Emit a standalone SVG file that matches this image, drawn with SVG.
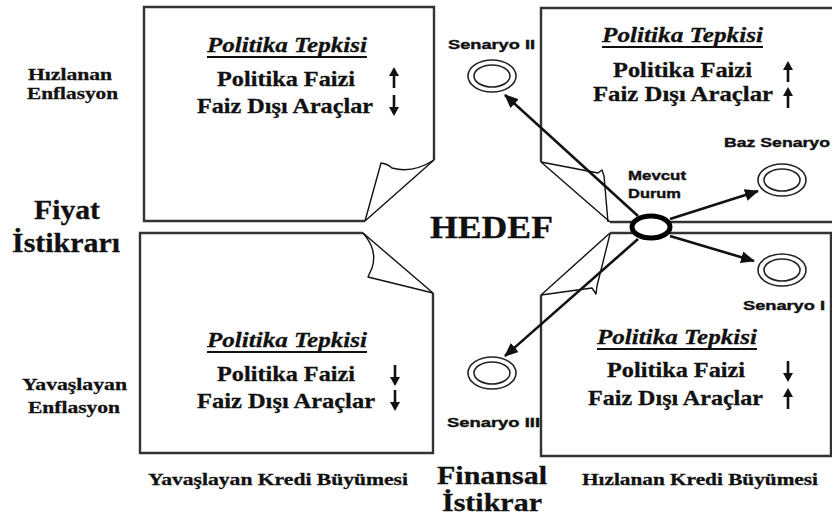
<svg xmlns="http://www.w3.org/2000/svg" xmlns:xlink="http://www.w3.org/1999/xlink" width="832" height="518" viewBox="0 0 832 518">
<style>
.box{fill:none;stroke:#333;stroke-width:2.4;stroke-linejoin:miter}
.flap{fill:none;stroke:#111;stroke-width:1.4;stroke-linejoin:round}
.ser{font-family:"Liberation Serif","Times New Roman","DejaVu Serif",serif;font-weight:bold;fill:#111;stroke:#111;stroke-width:0.3}
.ital{font-style:italic}
.sans{font-family:"Liberation Sans",Arial,sans-serif;font-weight:bold;fill:#111;font-size:13px;stroke:#111;stroke-width:0.4}
.ul{stroke:#111;stroke-width:1.8}
.ring{fill:none;stroke:#222;stroke-width:1.6}
.conn{stroke:#111;stroke-width:2.6;fill:none}
.glyph{stroke:#111;stroke-width:2.6;fill:none}
</style>
<defs>
<marker id="ah" markerUnits="userSpaceOnUse" markerWidth="14" markerHeight="12" refX="13" refY="6" orient="auto">
<path d="M0,0 L14,6 L0,12 z" fill="#111"/>
</marker>
<g id="up"><path class="glyph" d="M0,21 V7"/><path d="M-5,9 L0,0 L5,9 z" fill="#111"/></g>
<g id="down"><path class="glyph" d="M0,0 V14"/><path d="M-5,12 L0,21 L5,12 z" fill="#111"/></g>
<g id="dring"><ellipse class="ring" rx="24" ry="16"/><ellipse class="ring" rx="18" ry="11"/></g>
</defs>
<rect width="832" height="518" fill="#fff"/>

<g id="box-top-left">
<path class="box" d="M434,160 L434,7 L144,7 L144,221 L365,221"/>
<path class="flap" d="M365,221 L434,160"/>
<path class="flap" d="M365,221 L381,163 Q388,164 392,168 Q412,174 434,160"/>
<text class="ser ital" x="207" y="52" font-size="21" textLength="160" lengthAdjust="spacingAndGlyphs">Politika Tepkisi</text>
<line class="ul" x1="207" y1="57" x2="367" y2="57"/>
<text class="ser" x="217" y="86" font-size="21" textLength="138" lengthAdjust="spacingAndGlyphs">Politika Faizi</text>
<text class="ser" x="197" y="113" font-size="21" textLength="176" lengthAdjust="spacingAndGlyphs">Faiz Dışı Araçlar</text>
<use xlink:href="#up" x="394" y="67"/>
<use xlink:href="#down" x="394" y="95"/>
</g>

<g id="box-top-right">
<path class="box" d="M834,8 L541,8 L541,162"/>
<path class="box" d="M610,222 L834,222"/>
<path class="flap" d="M541,162 L610,222"/>
<path class="flap" d="M541,162 L598,173 L602,170 L604,176 L608,222"/>
<text class="ser ital" x="602" y="42" font-size="21" textLength="161" lengthAdjust="spacingAndGlyphs">Politika Tepkisi</text>
<line class="ul" x1="602" y1="47" x2="763" y2="47"/>
<text class="ser" x="613" y="77" font-size="21" textLength="139" lengthAdjust="spacingAndGlyphs">Politika Faizi</text>
<text class="ser" x="593" y="101" font-size="21" textLength="180" lengthAdjust="spacingAndGlyphs">Faiz Dışı Araçlar</text>
<use xlink:href="#up" x="788" y="61"/>
<use xlink:href="#up" x="788" y="87"/>
</g>

<g id="box-bottom-left">
<path class="box" d="M363,233 L140,233 L140,453 L433,453 L433,293"/>
<path class="flap" d="M363,233 L433,293"/>
<path class="flap" d="M363,233 Q378,250 372,268 L368,277 L433,293"/>
<text class="ser ital" x="207" y="347" font-size="21" textLength="160" lengthAdjust="spacingAndGlyphs">Politika Tepkisi</text>
<line class="ul" x1="207" y1="352" x2="367" y2="352"/>
<text class="ser" x="217" y="381" font-size="21" textLength="138" lengthAdjust="spacingAndGlyphs">Politika Faizi</text>
<text class="ser" x="197" y="408" font-size="21" textLength="178" lengthAdjust="spacingAndGlyphs">Faiz Dışı Araçlar</text>
<use xlink:href="#down" x="395" y="365"/>
<use xlink:href="#down" x="395" y="390"/>
</g>

<g id="box-bottom-right">
<path class="box" d="M610,233 L831,233 L831,456 L541,456 L541,295" stroke="#555" stroke-width="2.8"/>
<path class="flap" d="M541,295 L610,233"/>
<path class="flap" d="M541,295 L592,288 L596,294 L597,286 L610,234"/>
<text class="ser ital" x="597" y="344" font-size="21" textLength="160" lengthAdjust="spacingAndGlyphs">Politika Tepkisi</text>
<line class="ul" x1="597" y1="349" x2="757" y2="349"/>
<text class="ser" x="607" y="377" font-size="21" textLength="138" lengthAdjust="spacingAndGlyphs">Politika Faizi</text>
<text class="ser" x="588" y="405" font-size="21" textLength="175" lengthAdjust="spacingAndGlyphs">Faiz Dışı Araçlar</text>
<use xlink:href="#down" x="788" y="361"/>
<use xlink:href="#up" x="788" y="388"/>
</g>

<g id="axis-labels">
<text class="ser" x="28" y="80" font-size="17" textLength="84" lengthAdjust="spacingAndGlyphs">Hızlanan</text>
<text class="ser" x="27" y="99" font-size="17" textLength="91" lengthAdjust="spacingAndGlyphs">Enflasyon</text>
<text class="ser" x="22" y="390" font-size="17" textLength="105" lengthAdjust="spacingAndGlyphs">Yavaşlayan</text>
<text class="ser" x="28" y="413" font-size="17" textLength="92" lengthAdjust="spacingAndGlyphs">Enflasyon</text>
<text class="ser" x="34" y="219" font-size="27" textLength="66" lengthAdjust="spacingAndGlyphs">Fiyat</text>
<text class="ser" x="12" y="252" font-size="27" textLength="108" lengthAdjust="spacingAndGlyphs">İstikrarı</text>
<text class="ser" x="148" y="485" font-size="17" textLength="260" lengthAdjust="spacingAndGlyphs">Yavaşlayan Kredi Büyümesi</text>
<text class="ser" x="582" y="485" font-size="17" textLength="236" lengthAdjust="spacingAndGlyphs">Hızlanan Kredi Büyümesi</text>
<text class="ser" x="437" y="484" font-size="26" textLength="110" lengthAdjust="spacingAndGlyphs">Finansal</text>
<text class="ser" x="442" y="511" font-size="26" textLength="100" lengthAdjust="spacingAndGlyphs">İstikrar</text>
</g>

<g id="hedef">
<text class="ser" x="430" y="238" font-size="31" textLength="123" lengthAdjust="spacingAndGlyphs">HEDEF</text>
</g>

<g id="mevcut-durum">
<ellipse cx="651" cy="227" rx="19" ry="11" fill="#fff" stroke="#000" stroke-width="5"/>
<text class="sans" x="628" y="180" textLength="58" lengthAdjust="spacingAndGlyphs">Mevcut</text>
<text class="sans" x="628" y="198" textLength="53" lengthAdjust="spacingAndGlyphs">Durum</text>
</g>

<g id="senaryo-ii">
<use xlink:href="#dring" x="492" y="76"/>
<text class="sans" x="448" y="49" textLength="87" lengthAdjust="spacingAndGlyphs">Senaryo II</text>
</g>
<g id="baz-senaryo">
<use xlink:href="#dring" x="782" y="180"/>
<text class="sans" x="724" y="147" textLength="106" lengthAdjust="spacingAndGlyphs">Baz Senaryo</text>
</g>
<g id="senaryo-i">
<use xlink:href="#dring" x="782" y="270"/>
<text class="sans" x="743" y="310" textLength="82" lengthAdjust="spacingAndGlyphs">Senaryo I</text>
</g>
<g id="senaryo-iii">
<use xlink:href="#dring" x="492" y="373"/>
<text class="sans" x="447" y="427" textLength="93" lengthAdjust="spacingAndGlyphs">Senaryo III</text>
</g>

<g id="connectors">
<line class="conn" x1="638" y1="216" x2="505" y2="95" marker-end="url(#ah)"/>
<line class="conn" x1="670" y1="219" x2="758" y2="191" marker-end="url(#ah)"/>
<line class="conn" x1="670" y1="236" x2="754" y2="261" marker-end="url(#ah)"/>
<line class="conn" x1="638" y1="239" x2="505" y2="356" marker-end="url(#ah)"/>
</g>
</svg>
